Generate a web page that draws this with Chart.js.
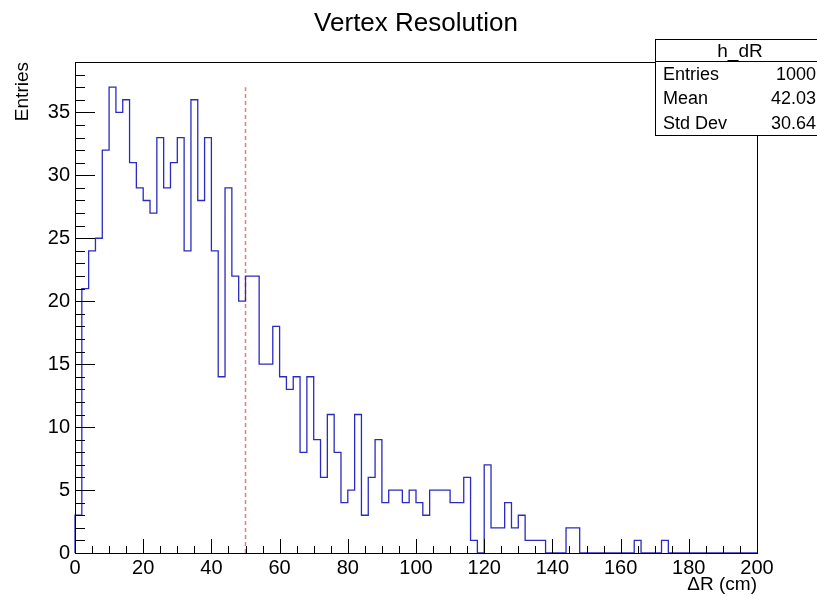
<!DOCTYPE html>
<html><head><meta charset="utf-8">
<script src="https://cdn.jsdelivr.net/npm/chart.js@4/dist/chart.umd.min.js"></script>
<style>html,body{margin:0;padding:0;background:#fff;}#wrap{width:817px;height:596px;position:relative;}</style>
</head><body><div id="wrap"><canvas id="c" width="817" height="596"></canvas></div>
<script>
// ---- data ----
const chartTitle = "Vertex Resolution";
const histName = "h_dR";
const xTitle = "\u0394R (cm)";
const yTitle = "Entries";
const xMin = 0, xMax = 200, binWidth = 2;
const yMin = 0, yMax = 39;
const counts = [
  3,21,24,25,32,37,35,36,31,29,
  28,27,33,29,31,33,24,36,28,33,
  24,14,29,22,20,22,22,15,15,18,
  14,13,14,8,14,9,6,11,8,4,
  5,11,3,6,9,4,5,5,4,5,
  4,3,5,5,5,4,4,6,1,0,
  7,2,2,4,2,3,1,1,1,0,
  0,0,2,2,0,0,0,0,0,0,
  0,0,1,0,0,0,1,0,0,0,
  0,0,0,0,0,0,0,0,0,0
];
const statLabels = ["Entries", "Mean", "Std Dev"];
const statValues = ["1000", "42.03", "30.64"];
const markerX = 50;
const markerTop = 37;
const xMajorStep = 20, xMinorStep = 5;
const yMajorStep = 5, yMinorStep = 1;

// ---- build ----
const FONT = "'Liberation Sans', Arial, Helvetica, sans-serif";
const histPoints = [{x: xMin, y: 0}];
counts.forEach((c, i) => histPoints.push({x: xMin + i * binWidth, y: c}));
histPoints.push({x: xMax, y: 0});
const markerPoints = [{x: markerX, y: 0}, {x: markerX, y: markerTop}];

const rootPlugin = {
  id: 'rootStyle',
  afterDraw(chart) {
    const ctx = chart.ctx, ca = chart.chartArea;
    const xs = chart.scales.x, ys = chart.scales.y;
    ctx.save();
    ctx.strokeStyle = '#000';
    ctx.lineWidth = 1;
    ctx.beginPath();
    for (let v = xMin; v <= xMax + 1e-9; v += xMinorStep) {
      const len = (v % xMajorStep === 0) ? 14 : 7;
      const px = Math.round(xs.getPixelForValue(v)) + 0.5;
      ctx.moveTo(px, ca.bottom);
      ctx.lineTo(px, ca.bottom - len);
    }
    for (let v = yMin; v <= yMax + 1e-9; v += yMinorStep) {
      const len = (v % yMajorStep === 0) ? 20 : 10;
      const py = Math.round(ys.getPixelForValue(v)) + 0.5;
      ctx.moveTo(ca.left, py);
      ctx.lineTo(ca.left + len, py);
    }
    ctx.stroke();
    // frame
    ctx.strokeRect(Math.round(ca.left) + 0.5, Math.round(ca.top) + 0.5,
                   Math.round(ca.right - ca.left), Math.round(ca.bottom - ca.top));
    // title
    ctx.fillStyle = '#000';
    ctx.font = '26px ' + FONT;
    ctx.textAlign = 'center';
    ctx.textBaseline = 'alphabetic';
    ctx.fillText(chartTitle, (ca.left + ca.right) / 2, 31);
    // stats box
    const bx = 655.5, by = 39.5, bw = 175, bh = 96, hh = 22;
    ctx.fillStyle = '#fff';
    ctx.fillRect(bx, by, bw, bh);
    ctx.strokeRect(bx, by, bw, bh);
    ctx.beginPath();
    ctx.moveTo(bx, by + hh); ctx.lineTo(bx + bw, by + hh);
    ctx.stroke();
    ctx.fillStyle = '#000';
    ctx.font = '19px ' + FONT;
    ctx.textAlign = 'center';
    ctx.textBaseline = 'middle';
    ctx.fillText(histName, 740, by + hh / 2 + 1);
    ctx.font = '18px ' + FONT;
    const rowH = (bh - hh) / statLabels.length;
    statLabels.forEach((lab, i) => {
      const cy = by + hh + rowH * (i + 0.5) + 1;
      ctx.textAlign = 'left';
      ctx.fillText(lab, 663, cy);
      ctx.textAlign = 'right';
      ctx.fillText(statValues[i], 816, cy);
    });
    ctx.restore();
  }
};

new Chart(document.getElementById('c'), {
  type: 'line',
  data: {
    datasets: [
      {
        label: histName,
        data: histPoints,
        stepped: 'before',
        borderColor: '#2b2bc0',
        borderWidth: 1.3,
        pointRadius: 0,
        fill: false,
        tension: 0,
        clip: 4
      },
      {
        label: 'marker',
        data: markerPoints,
        borderColor: 'rgba(245,95,95,0.85)',
        borderWidth: 1.5,
        borderDash: [4, 3],
        pointRadius: 0,
        fill: false
      }
    ]
  },
  options: {
    responsive: false,
    animation: false,
    devicePixelRatio: 1,
    layout: { padding: { left: 0, right: 60, top: 62, bottom: 0 } },
    plugins: { legend: { display: false }, tooltip: { enabled: false }, title: { display: false } },
    scales: {
      x: {
        type: 'linear', min: xMin, max: xMax,
        grid: { display: false, drawTicks: false },
        border: { display: false },
        ticks: { stepSize: xMajorStep, color: '#000', font: { family: FONT, size: 20 }, padding: 3, maxRotation: 0, autoSkip: false },
        title: { display: true, text: xTitle, align: 'end', color: '#000', font: { family: FONT, size: 19 }, padding: { top: 0, bottom: 0 } },
        afterFit(s) { s.height = 43; }
      },
      y: {
        type: 'linear', min: yMin, max: yMax,
        grid: { display: false, drawTicks: false },
        border: { display: false },
        ticks: { stepSize: yMajorStep, includeBounds: false, color: '#000', font: { family: FONT, size: 20 }, padding: 5 },
        title: { display: true, text: yTitle, align: 'end', color: '#000', font: { family: FONT, size: 19 }, padding: { top: 11, bottom: 0 } },
        afterFit(s) { s.width = 75; }
      }
    }
  },
  plugins: [rootPlugin]
});
</script>
</body></html>
